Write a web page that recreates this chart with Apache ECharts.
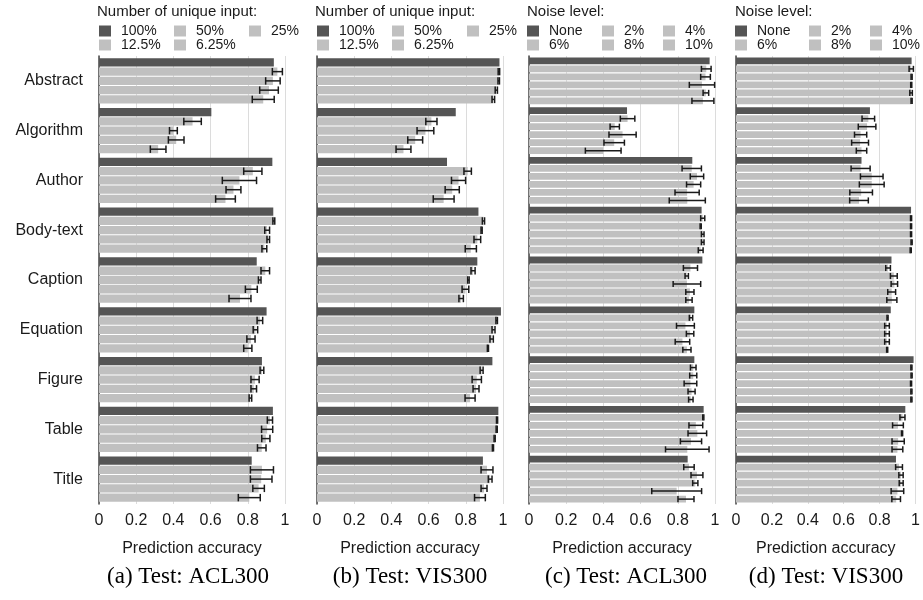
<!DOCTYPE html>
<html>
<head>
<meta charset="utf-8">
<script src="https://cdn.jsdelivr.net/npm/echarts@6/dist/echarts.min.js"></script>
<style>html,body{margin:0;padding:0;background:#fff;}#c{width:923px;height:600px;}</style>
</head>
<body>
<div id="c"></div>
<script>
// ---- data ----
const categories = ['Abstract','Algorithm','Author','Body-text','Caption','Equation','Figure','Table','Title'];
const xTicks = [0, 0.2, 0.4, 0.6, 0.8, 1];

const inputNames = ['100%','50%','25%','12.5%','6.25%'];
const noiseNames = ['None','2%','4%','6%','8%','10%'];

// (a) Test: ACL300 — number of unique input
const a100   = [0.940, 0.604, 0.932, 0.937, 0.848, 0.901, 0.876, 0.935, 0.821];
const a50    = [0.959, 0.503, 0.827, 0.940, 0.894, 0.865, 0.876, 0.919, 0.876];
const a50e   = [0.027, 0.047, 0.049, 0.005, 0.023, 0.015, 0.010, 0.014, 0.062];
const a25    = [0.935, 0.400, 0.755, 0.904, 0.864, 0.841, 0.839, 0.904, 0.872];
const a25e   = [0.039, 0.021, 0.092, 0.013, 0.007, 0.012, 0.022, 0.030, 0.058];
const a12    = [0.914, 0.415, 0.723, 0.910, 0.819, 0.817, 0.832, 0.897, 0.858];
const a12e   = [0.050, 0.042, 0.040, 0.007, 0.032, 0.022, 0.015, 0.022, 0.031];
const a6     = [0.883, 0.318, 0.680, 0.889, 0.758, 0.800, 0.814, 0.875, 0.808];
const a6e    = [0.059, 0.042, 0.053, 0.013, 0.059, 0.022, 0.007, 0.023, 0.059];

// (b) Test: VIS300 — number of unique input
const b100   = [0.981, 0.746, 0.699, 0.868, 0.862, 0.989, 0.943, 0.975, 0.892];
const b50    = [0.978, 0.615, 0.810, 0.895, 0.839, 0.966, 0.885, 0.968, 0.914];
const b50e   = [0.004, 0.030, 0.020, 0.006, 0.011, 0.004, 0.008, 0.003, 0.032];
const b25    = [0.977, 0.583, 0.761, 0.885, 0.814, 0.949, 0.859, 0.966, 0.931];
const b25e   = [0.004, 0.045, 0.038, 0.003, 0.004, 0.008, 0.025, 0.003, 0.010];
const b12    = [0.964, 0.528, 0.727, 0.862, 0.798, 0.939, 0.855, 0.955, 0.898];
const b12e   = [0.006, 0.040, 0.038, 0.018, 0.018, 0.009, 0.016, 0.003, 0.016];
const b6     = [0.948, 0.465, 0.681, 0.827, 0.775, 0.919, 0.823, 0.946, 0.876];
const b6e    = [0.007, 0.040, 0.056, 0.030, 0.012, 0.003, 0.027, 0.003, 0.029];

// (c) Test: ACL300 — noise level
const cNone  = [0.971, 0.527, 0.878, 0.928, 0.932, 0.889, 0.889, 0.939, 0.853];
const c2     = [0.953, 0.530, 0.875, 0.934, 0.868, 0.871, 0.883, 0.937, 0.860];
const c2e    = [0.026, 0.039, 0.052, 0.011, 0.038, 0.009, 0.015, 0.003, 0.028];
const c4     = [0.949, 0.461, 0.903, 0.923, 0.848, 0.841, 0.883, 0.897, 0.903];
const c4e    = [0.026, 0.025, 0.036, 0.003, 0.009, 0.048, 0.019, 0.037, 0.032];
const c6     = [0.930, 0.503, 0.885, 0.934, 0.849, 0.866, 0.868, 0.905, 0.894];
const c6e    = [0.068, 0.073, 0.038, 0.007, 0.074, 0.020, 0.034, 0.050, 0.014];
const c8     = [0.951, 0.458, 0.850, 0.934, 0.865, 0.825, 0.874, 0.871, 0.794];
const c8e    = [0.015, 0.055, 0.065, 0.007, 0.022, 0.039, 0.019, 0.057, 0.134];
const c10    = [0.935, 0.399, 0.851, 0.923, 0.860, 0.849, 0.870, 0.851, 0.844];
const c10e   = [0.059, 0.096, 0.097, 0.013, 0.017, 0.022, 0.012, 0.117, 0.043];

// (d) Test: VIS300 — noise level
const dNone  = [0.978, 0.746, 0.699, 0.975, 0.866, 0.862, 0.989, 0.943, 0.891];
const d2     = [0.976, 0.737, 0.694, 0.975, 0.847, 0.844, 0.977, 0.927, 0.908];
const d2e    = [0.012, 0.035, 0.053, 0.003, 0.013, 0.003, 0.003, 0.014, 0.019];
const d4     = [0.978, 0.730, 0.756, 0.975, 0.879, 0.841, 0.978, 0.902, 0.919];
const d4e    = [0.003, 0.049, 0.063, 0.003, 0.019, 0.013, 0.003, 0.030, 0.012];
const d6     = [0.976, 0.694, 0.756, 0.975, 0.882, 0.841, 0.975, 0.925, 0.920];
const d6e    = [0.003, 0.034, 0.069, 0.003, 0.018, 0.013, 0.003, 0.003, 0.011];
const d8     = [0.975, 0.691, 0.697, 0.978, 0.867, 0.841, 0.977, 0.903, 0.899];
const d8e    = [0.007, 0.047, 0.063, 0.003, 0.022, 0.013, 0.003, 0.034, 0.035];
const d10    = [0.978, 0.699, 0.685, 0.973, 0.868, 0.842, 0.977, 0.899, 0.892];
const d10e   = [0.003, 0.029, 0.052, 0.003, 0.028, 0.003, 0.003, 0.030, 0.024];

const legendTitles = ['Number of unique input:', 'Number of unique input:', 'Noise level:', 'Noise level:'];
const captions = ['(a) Test: ACL300', '(b) Test: VIS300', '(c) Test: ACL300', '(d) Test: VIS300'];
const axisName = 'Prediction accuracy';

// ---- layout / style ----
const DARK = '#555555', GRAY = '#c0c0c0', ERR = '#1a1a1a', GRID = '#dcdcdc', TXT = '#1a1a1a';
const SANS = '"Liberation Sans", Arial, Helvetica, sans-serif';
const SERIF = '"Liberation Serif", "Times New Roman", serif';

const panels = [
  { left: 99,  names: inputNames, vals: [a100, a50, a25, a12, a6], errs: [null, a50e, a25e, a12e, a6e], gap: 0.12, catGap: 0.09,
    legendX: [99, 174, 249], titleX: 97, capX: 188 },
  { left: 317, names: inputNames, vals: [b100, b50, b25, b12, b6], errs: [null, b50e, b25e, b12e, b6e], gap: 0.12, catGap: 0.09,
    legendX: [317, 392, 467], titleX: 315, capX: 410 },
  { left: 529, names: noiseNames, vals: [cNone, c2, c4, c6, c8, c10], errs: [null, c2e, c4e, c6e, c8e, c10e], gap: 0.18, catGap: 0.06,
    legendX: [527, 602, 663], titleX: 527, capX: 626 },
  { left: 736, names: noiseNames, vals: [dNone, d2, d4, d6, d8, d10], errs: [null, d2e, d4e, d6e, d8e, d10e], gap: 0.18, catGap: 0.06,
    legendX: [735, 809, 870], titleX: 735, capX: 826 }
];
const GRID_TOP = 56, GRID_H = 448, GRID_W = 186;

const grid = [], xAxis = [], yAxis = [], series = [], legend = [], title = [];

panels.forEach((p, gi) => {
  grid.push({ left: p.left, top: GRID_TOP, width: GRID_W, height: GRID_H, containLabel: false });
  xAxis.push({
    type: 'value', gridIndex: gi, min: xTicks[0], max: xTicks[xTicks.length - 1], interval: xTicks[1] - xTicks[0],
    axisLine: { show: false }, axisTick: { show: false },
    splitLine: { show: true, lineStyle: { color: GRID, width: 1 } },
    axisLabel: { fontSize: 16, color: TXT, fontFamily: SANS, margin: 9 },
    name: axisName, nameLocation: 'middle', nameGap: 37,
    nameTextStyle: { fontSize: 16, color: TXT, fontFamily: SANS }
  });
  yAxis.push({
    type: 'category', gridIndex: gi, data: categories, inverse: true,
    axisLine: { show: true, lineStyle: { color: '#444', width: 1.5 } },
    axisTick: { show: false }, splitLine: { show: false },
    axisLabel: { show: gi === 0, fontSize: 16, color: TXT, fontFamily: SANS, margin: 16 }
  });
  const n = p.names.length;
  p.names.forEach((nm, si) => {
    series.push({
      type: 'bar', name: nm, xAxisIndex: gi, yAxisIndex: gi, data: p.vals[si],
      itemStyle: { color: si === 0 ? DARK : GRAY },
      barGap: (p.gap * 100) + '%', barCategoryGap: (p.catGap * 100) + '%',
      silent: true, animation: false, z: 2
    });
  });
  p.names.forEach((nm, si) => {
    if (!p.errs[si]) return;
    const data = p.vals[si].map((v, ci) => [v, ci, p.errs[si][ci]]);
    series.push({
      type: 'custom', name: nm, xAxisIndex: gi, yAxisIndex: gi, data: data,
      encode: { x: 0, y: 1 }, silent: true, animation: false, z: 5,
      renderItem: (params, api) => {
        const v = api.value(0), ci = api.value(1), e = api.value(2);
        const c = api.coord([v, ci]);
        const band = api.size([0, 1])[1];
        const usable = band * (1 - p.catGap);
        const w = usable / (n + (n - 1) * p.gap);
        const y = c[1] - usable / 2 + si * w * (1 + p.gap) + w / 2;
        const x1 = api.coord([v - e, ci])[0], x2 = api.coord([v + e, ci])[0];
        const hh = w * 0.45;
        const st = { stroke: ERR, lineWidth: 1.5 };
        return { type: 'group', children: [
          { type: 'line', shape: { x1: x1, y1: y, x2: x2, y2: y }, style: st },
          { type: 'line', shape: { x1: x1, y1: y - hh, x2: x1, y2: y + hh }, style: st },
          { type: 'line', shape: { x1: x2, y1: y - hh, x2: x2, y2: y + hh }, style: st }
        ] };
      }
    });
  });
  // legend items, 3 per row
  p.names.forEach((nm, si) => {
    legend.push({
      data: [nm], left: p.legendX[si % 3], top: si < 3 ? 24 : 38, padding: 0,
      itemWidth: 12, itemHeight: 11, icon: 'rect', selectedMode: false,
      textStyle: { fontSize: 14, color: TXT, fontFamily: SANS, padding: [0, 0, 0, 5] }
    });
  });
  title.push({
    text: legendTitles[gi], left: p.titleX, top: 4, padding: 0,
    textStyle: { fontSize: 15, fontWeight: 'normal', color: TXT, fontFamily: SANS }
  });
  title.push({
    text: captions[gi], left: p.capX, top: 565, padding: 0, textAlign: 'center',
    textStyle: { fontSize: 23, fontWeight: 'normal', color: '#000', fontFamily: SERIF }
  });
});

const chart = echarts.init(document.getElementById('c'), null, { renderer: 'canvas' });
chart.setOption({ animation: false, backgroundColor: '#fff', grid, xAxis, yAxis, series, legend, title });
</script>
</body>
</html>
